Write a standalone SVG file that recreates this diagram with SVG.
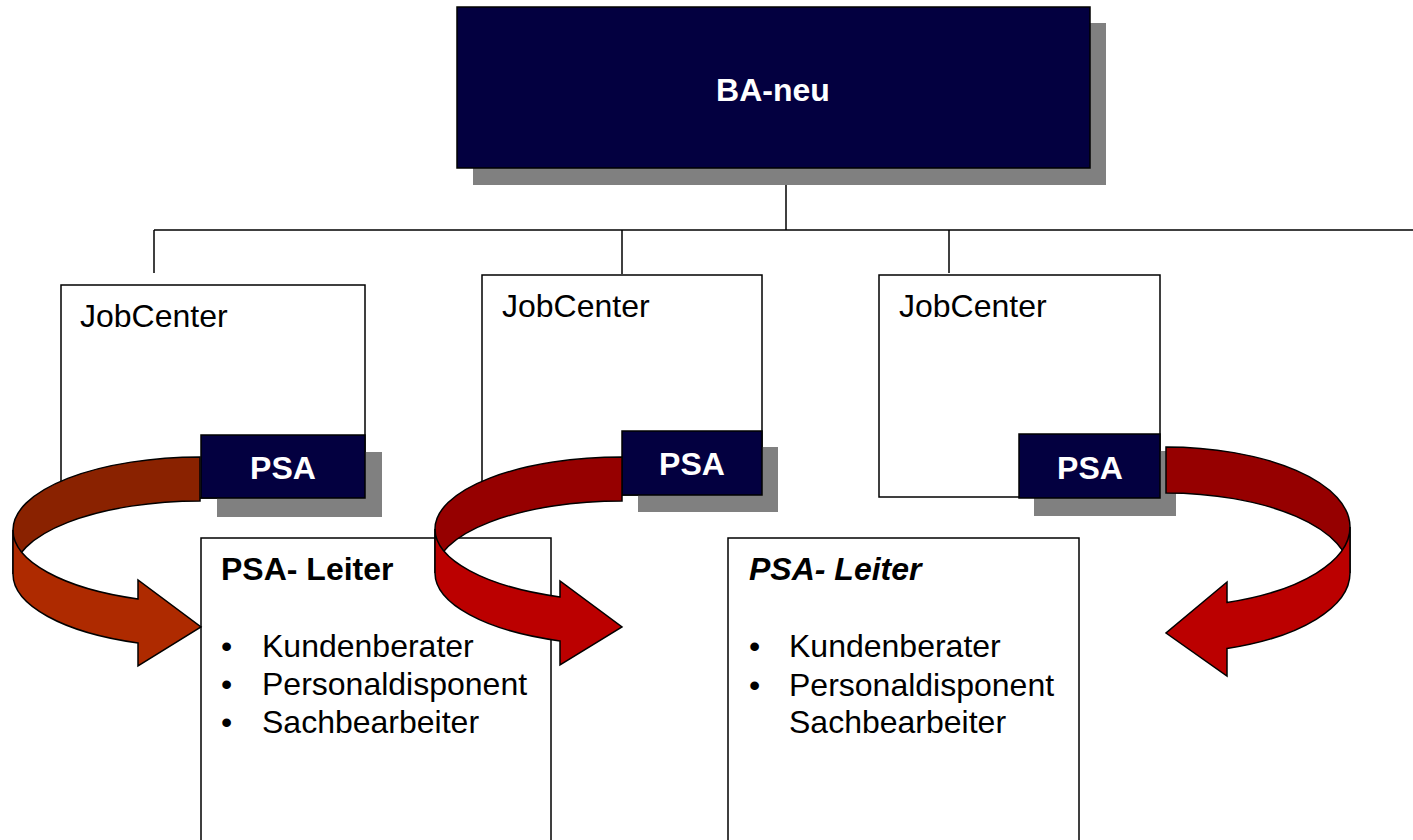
<svg xmlns="http://www.w3.org/2000/svg" width="1413" height="840" viewBox="0 0 1413 840">
<defs>
<style>
text{font-family:"Liberation Sans",Arial,sans-serif;font-size:32px;fill:#000}
.box{fill:#fff;stroke:#000;stroke-width:1.5}
.navy{fill:#030040;stroke:#000;stroke-width:1.5}
.shadow{fill:#808080}
.wt{fill:#fff;font-weight:bold;text-anchor:middle}
.b{font-weight:bold}
.line{stroke:#000;stroke-width:1.5;fill:none}
.arr{stroke:#000;stroke-width:1.5;stroke-linejoin:miter}
</style>
</defs>
<rect width="1413" height="840" fill="#fff"/>

<g id="connectors">
<line class="line" x1="786" y1="185" x2="786" y2="230"/>
<line class="line" x1="154" y1="230" x2="1413" y2="230"/>
<line class="line" x1="154" y1="230" x2="154" y2="273"/>
<line class="line" x1="622" y1="230" x2="622" y2="274"/>
<line class="line" x1="949" y1="230" x2="949" y2="273"/>
</g>

<g id="ba-neu">
<rect class="shadow" x="473" y="23" width="633" height="162"/>
<rect class="navy" x="457" y="7" width="633" height="161"/>
<text class="wt" x="773" y="101">BA-neu</text>
</g>

<g id="jobcenter1">
<rect class="box" x="61" y="285" width="304" height="213"/>
<text x="80" y="327">JobCenter</text>
</g>
<g id="jobcenter2">
<rect class="box" x="482" y="275" width="280" height="220"/>
<text x="502" y="317">JobCenter</text>
</g>
<g id="jobcenter3">
<rect class="box" x="879" y="275" width="281" height="222"/>
<text x="899" y="317">JobCenter</text>
</g>

<g id="leiter1">
<rect class="box" x="201" y="538" width="350" height="310"/>
<text class="b" x="221" y="580">PSA- Leiter</text>
<text x="221" y="657">•</text>
<text x="262" y="657">Kundenberater</text>
<text x="221" y="695">•</text>
<text x="262" y="695">Personaldisponent</text>
<text x="221" y="733">•</text>
<text x="262" y="733">Sachbearbeiter</text>
</g>
<g id="leiter2">
<rect class="box" x="728" y="538" width="351" height="310"/>
<text class="b" x="749" y="580" font-style="italic">PSA- Leiter</text>
<text x="749" y="657">•</text>
<text x="789" y="657">Kundenberater</text>
<text x="749" y="696">•</text>
<text x="789" y="696">Personaldisponent</text>
<text x="789" y="733">Sachbearbeiter</text>
</g>

<g id="psa1">
<rect class="shadow" x="217" y="452" width="165" height="65"/>
<rect class="navy" x="201" y="435" width="164" height="63"/>
<text class="wt" x="283" y="479">PSA</text>
</g>
<g id="psa2">
<rect class="shadow" x="638" y="447" width="140" height="65"/>
<rect class="navy" x="622" y="431" width="140" height="64"/>
<text class="wt" x="692" y="475">PSA</text>
</g>
<g id="psa3">
<rect class="shadow" x="1034" y="451" width="142" height="65"/>
<rect class="navy" x="1019" y="434" width="141" height="64"/>
<text class="wt" x="1090" y="479">PSA</text>
</g>

<g id="arrows">
<path class="arr" fill="#8A2200" d="M200,457 A187,73 0 0 0 13,530 L13,574 A187,73 0 0 1 200,501 Z"/>
<path class="arr" fill="#AE2A00" d="M13,530 A187,73 0 0 0 138,598.9 L138,580 L201,627 L138,666 L138,642.9 A187,73 0 0 1 13,574 Z"/>
<path class="arr" fill="#960000" d="M622,457 A187,72 0 0 0 435,529 L435,573 A187,72 0 0 1 622,501 Z"/>
<path class="arr" fill="#BB0000" d="M435,529 A187,72 0 0 0 560,596.9 L560,581 L622,627 L560,665 L560,640.9 A187,72 0 0 1 435,573 Z"/>
<path class="arr" fill="#960000" d="M1166,447 A184,80 0 0 1 1350,527 L1350,573 A184,80 0 0 0 1166,493 Z"/>
<path class="arr" fill="#BB0000" d="M1350,527 A184,80 0 0 1 1227,602.5 L1227,582 L1166,633 L1227,676 L1227,648.5 A184,80 0 0 0 1350,573 Z"/>
</g>
</svg>
